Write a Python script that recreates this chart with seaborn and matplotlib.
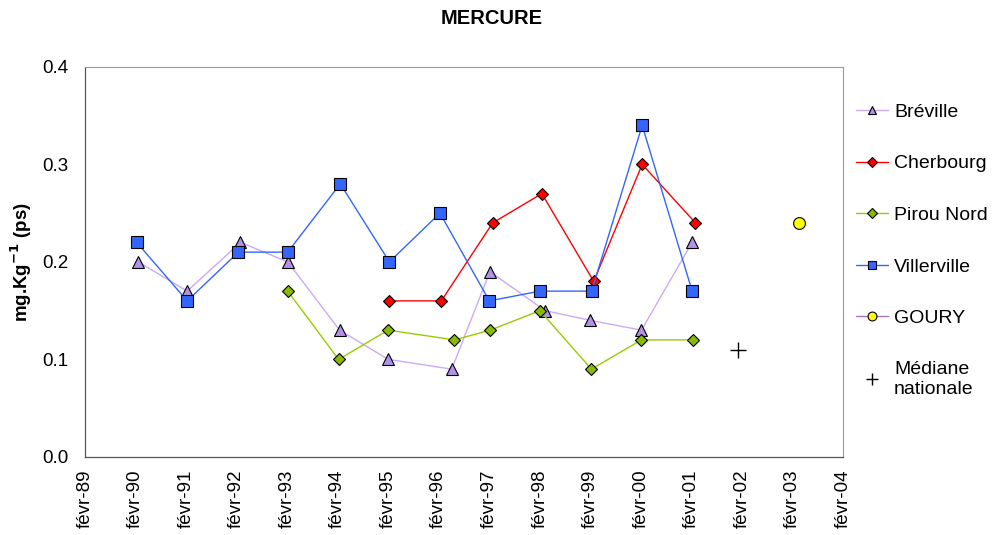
import pandas as pd
import matplotlib
matplotlib.use('Agg')
import matplotlib.pyplot as plt
import seaborn as sns

# --- Data ---
breville_dates = ['1990-02-22', '1991-02-10', '1992-03-01', '1993-02-05', '1994-02-15', '1995-02-01',
                  '1996-05-05', '1997-02-05', '1998-03-10', '1999-02-01', '2000-02-05', '2001-02-05']
breville_vals = [0.20, 0.17, 0.22, 0.20, 0.13, 0.10, 0.09, 0.19, 0.15, 0.14, 0.13, 0.22]

cherbourg_dates = ['1995-02-08', '1996-02-20', '1997-02-25', '1998-02-15', '1999-02-25', '2000-02-10', '2001-03-01']
cherbourg_vals = [0.16, 0.16, 0.24, 0.27, 0.18, 0.30, 0.24]

pirou_dates = ['1993-02-05', '1994-02-08', '1995-02-01', '1996-05-25', '1997-02-08', '1998-02-01',
               '1999-02-08', '2000-02-05', '2001-02-10']
pirou_vals = [0.17, 0.10, 0.13, 0.12, 0.13, 0.15, 0.09, 0.12, 0.12]

villerville_dates = ['1990-02-10', '1991-02-10', '1992-02-15', '1993-02-05', '1994-02-20', '1995-02-10',
                     '1996-02-10', '1997-02-01', '1998-02-01', '1999-02-10', '2000-02-10', '2001-02-05']
villerville_vals = [0.22, 0.16, 0.21, 0.21, 0.28, 0.20, 0.25, 0.16, 0.17, 0.17, 0.34, 0.17]

goury_dates = ['2003-03-20']
goury_vals = [0.24]

mediane_dates = ['2002-01-05']
mediane_vals = [0.11]

tick_years = list(range(1989, 2005))
tick_labels = [f"févr-{y % 100:02d}" for y in tick_years]

# --- Style ---
sns.set_style('white')
plt.rcParams['font.family'] = ['Liberation Sans', 'DejaVu Sans']
plt.rcParams['text.color'] = 'black'
plt.rcParams['axes.labelcolor'] = 'black'
plt.rcParams['xtick.color'] = 'black'
plt.rcParams['ytick.color'] = 'black'

fig = plt.figure(figsize=(9.99, 5.35), dpi=100)
ax = fig.add_axes([0.085, 0.146, 0.759, 0.729])

series = [
    ('Bréville', breville_dates, breville_vals, '#CCAAF5', '^', '#B391E6', 8.5),
    ('Cherbourg', cherbourg_dates, cherbourg_vals, '#FF0000', 'D', '#FF0000', 6.5),
    ('Pirou Nord', pirou_dates, pirou_vals, '#99CC00', 'D', '#88BB00', 6.5),
    ('Villerville', villerville_dates, villerville_vals, '#3366FF', 's', '#3366FF', 8.5),
    ('GOURY', goury_dates, goury_vals, '#B070C0', 'o', '#FFFF00', 8.5),
]

for name, dates, vals, lc, mk, mfc, ms in series:
    df = pd.DataFrame({'date': pd.to_datetime(dates), 'val': vals})
    sns.lineplot(data=df, x='date', y='val', ax=ax, color=lc, linewidth=1,
                 marker=mk, markersize=ms, markerfacecolor=mfc, markeredgecolor='black',
                 markeredgewidth=0.8, label=name, sort=True)

# national median: a lone black cross, no line
med = pd.DataFrame({'date': pd.to_datetime(mediane_dates), 'val': mediane_vals})
sns.lineplot(data=med, x='date', y='val', ax=ax, color='black', linewidth=0,
             marker='+', markersize=12, markeredgecolor='black', markeredgewidth=1.0,
             label='Médiane\nnationale')

# --- Axes ---
ax.set_xlim(pd.Timestamp('1989-02-01'), pd.Timestamp('2004-02-01'))
ax.set_ylim(0, 0.4)
ticks = [pd.Timestamp(f'{y}-02-01') for y in tick_years]
ax.set_xticks(ticks)
ax.set_xticklabels(tick_labels, rotation=90, fontsize=13.5)
ax.set_yticks([0.0, 0.1, 0.2, 0.3, 0.4])
ax.set_yticklabels(['0.0', '0.1', '0.2', '0.3', '0.4'], fontsize=13.5)
ax.tick_params(axis='both', direction='out', length=6, width=0.8, color='#555555')
ax.tick_params(axis='y', pad=6)
ax.tick_params(axis='x', pad=3)
ax.set_xlabel('')
ax.set_ylabel(r'mg.Kg$^{\mathbf{-1}}$ (ps)', fontsize=13.5, fontweight='bold', labelpad=6)

for side in ['top', 'right']:
    ax.spines[side].set_color('#999999')
    ax.spines[side].set_linewidth(0.8)
for side in ['left', 'bottom']:
    ax.spines[side].set_color('#555555')
    ax.spines[side].set_linewidth(0.9)

fig.text(0.4925, 0.965, 'MERCURE', ha='center', va='center', fontsize=14.5, fontweight='bold')

ax.legend(loc='upper left', bbox_to_anchor=(1.007, 0.927), frameon=False, fontsize=14,
          labelspacing=1.75, handlelength=1.65, handletextpad=0.3, markerscale=0.75,
          borderaxespad=0)

fig.savefig('out.png', dpi=100)
